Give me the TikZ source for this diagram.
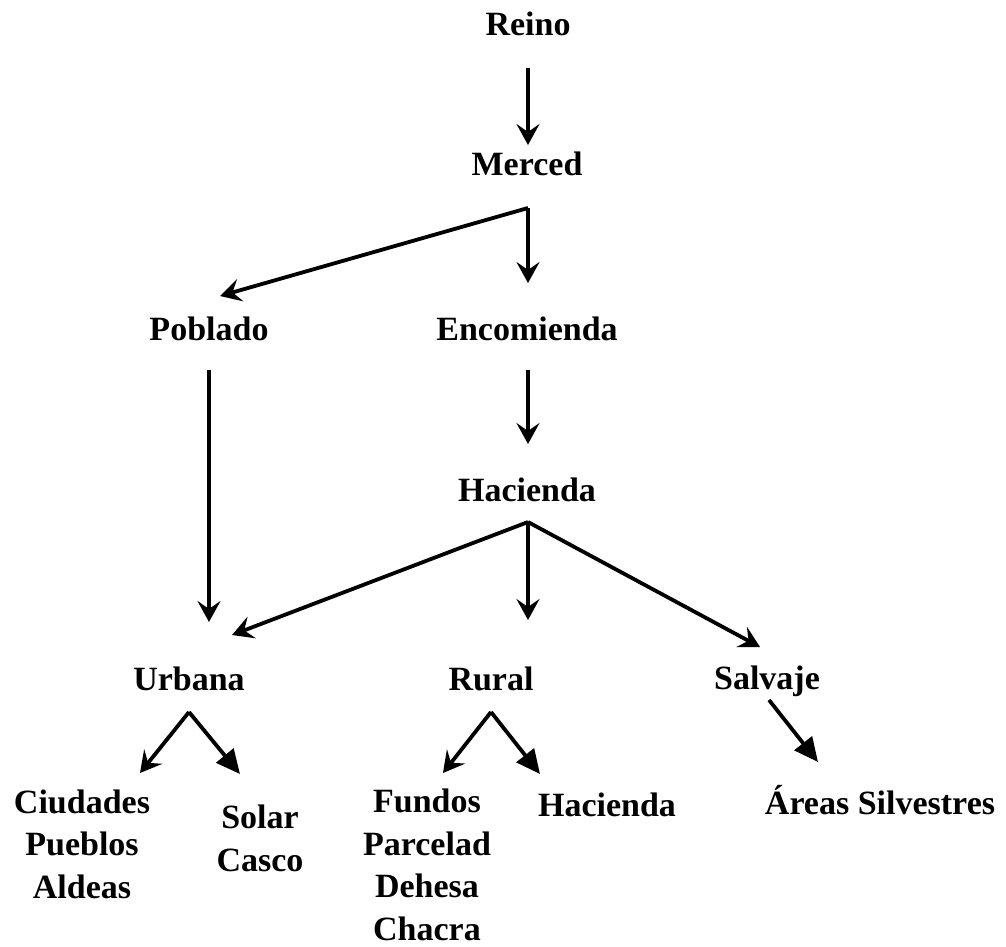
\documentclass[tikz,border=0pt]{standalone}
\usepackage{fontspec}
\setmainfont{Liberation Serif}
\usetikzlibrary{arrows.meta}
\tikzset{
  lbl/.style={font=\fontsize{34}{42.5}\selectfont\bfseries, inner sep=0pt, anchor=base, align=center},
  arr/.style={line width=3.8pt, -{Stealth[length=21pt,width=23pt,inset=8pt]}},
  arrt/.style={line width=3.8pt, -{Triangle[length=24pt,width=22pt]}}
}
\begin{document}
\begin{tikzpicture}[x=1pt,y=-1pt]
\useasboundingbox (0,0) rectangle (1006,946);
\node[lbl] (reino) at (528,35) {Reino};
\node[lbl] (merced) at (527,175) {Merced};
\node[lbl] (poblado) at (209,340) {Poblado};
\node[lbl] (encom) at (527,340) {Encomienda};
\node[lbl] (hac) at (527,501) {Hacienda};
\node[lbl] (urb) at (189,690) {Urbana};
\node[lbl] (rur) at (491,690) {Rural};
\node[lbl] (salv) at (767,689) {Salvaje};
\node[lbl] (ciud) at (82,898) {Ciudades\\Pueblos\\Aldeas};
\node[lbl] (solar) at (260,871) {Solar\\Casco};
\node[lbl] (fund) at (427,940) {Fundos\\Parcelad\\Dehesa\\Chacra};
\node[lbl] (hac2) at (607,816) {Hacienda};
\node[lbl] (areas) at (880,814) {Áreas Silvestres};

\draw[arr] ([shift={(0,33)}]reino.base) -- ([shift={(1,-30)}]merced.base);
\draw[arr] ([shift={(1,33)}]merced.base) -- ([shift={(1,-57)}]encom.base);
\draw[arr] ([shift={(1,33)}]merced.base) -- ([shift={(11,-44)}]poblado.base);
\draw[arr] ([shift={(1,30)}]encom.base) -- ([shift={(1,-57)}]hac.base);
\draw[arr] ([shift={(0,30)}]poblado.base) -- ([shift={(20,-68)}]urb.base);
\draw[arr] ([shift={(1,21)}]hac.base) -- ([shift={(43,-55)}]urb.base);
\draw[arr] ([shift={(1,21)}]hac.base) -- ([shift={(37,-70)}]rur.base);
\draw[arr] ([shift={(1,21)}]hac.base) -- ([shift={(-7,-42)}]salv.base);
\draw[arr] ([shift={(0,22)}]urb.base) -- ([shift={(58,-125)}]ciud.base);
\draw[arrt] ([shift={(0,22)}]urb.base) -- ([shift={(-20,-97)}]solar.base);
\draw[arr] ([shift={(0,22)}]rur.base) -- ([shift={(16,-167)}]fund.base);
\draw[arrt] ([shift={(0,22)}]rur.base) -- ([shift={(-67,-42)}]hac2.base);
\draw[arrt] ([shift={(2,11)}]salv.base) -- ([shift={(-62,-52)}]areas.base);
\end{tikzpicture}
\end{document}
